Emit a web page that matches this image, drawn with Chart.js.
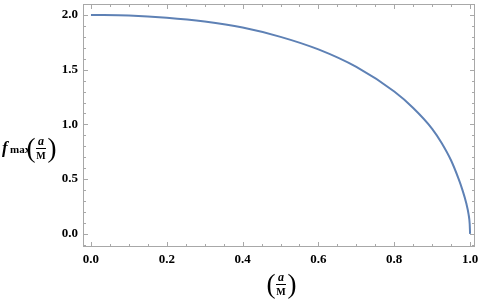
<!DOCTYPE html>
<html>
<head>
<meta charset="utf-8">
<script src="https://cdn.jsdelivr.net/npm/chart.js@4"></script>
<style>
  html, body { margin: 0; padding: 0; background: #fff; }
  #wrap { width: 484px; height: 299px; }
</style>
</head>
<body>
<div id="wrap"><canvas id="grafik" width="484" height="299"></canvas></div>
<script>
// values
const aValues = [0, 0.1, 0.2, 0.3, 0.4, 0.5, 0.6, 0.7, 0.8, 0.85, 0.9, 0.925, 0.95, 0.97, 0.98, 0.99, 0.996, 0.999, 1.0];
const fValues = [2.00, 1.995, 1.975, 1.94, 1.885, 1.80, 1.685, 1.525, 1.30, 1.15, 0.96, 0.83, 0.67, 0.50, 0.40, 0.28, 0.18, 0.09, 0.0];
const xTicks = [0, 0.2, 0.4, 0.6, 0.8, 1.0];
const yTicks = [0, 0.5, 1.0, 1.5, 2.0];
const xMinorStep = 0.05;
const yMinorStep = 0.1;

const frameColor = "#a8a8a8";
const serif = "'Liberation Serif', 'Times New Roman', serif";

// frame with inward ticks on all four sides (Mathematica style)
const framePlugin = {
  id: "frame",
  afterDraw(c) {
    const ctx = c.ctx, a = c.chartArea, x = c.scales.x, y = c.scales.y;
    ctx.save();
    ctx.strokeStyle = frameColor;
    ctx.lineWidth = 1;
    ctx.strokeRect(a.left + 0.5, a.top + 0.5, a.right - a.left - 1, a.bottom - a.top - 1);
    ctx.beginPath();
    for (let v = 0; v <= 1.0001; v += xMinorStep) {
      const px = Math.round(x.getPixelForValue(v)) + 0.5;
      const major = xTicks.some(t => Math.abs(t - v) < 1e-6);
      const len = major ? 5 : 3;
      ctx.moveTo(px, a.bottom); ctx.lineTo(px, a.bottom - len);
      ctx.moveTo(px, a.top); ctx.lineTo(px, a.top + len);
    }
    for (let v = -0.1; v <= 2.0001; v += yMinorStep) {
      const py = Math.round(y.getPixelForValue(v)) + 0.5;
      const major = yTicks.some(t => Math.abs(t - v) < 1e-6);
      const len = major ? 5 : 3;
      ctx.moveTo(a.left, py); ctx.lineTo(a.left + len, py);
      ctx.moveTo(a.right, py); ctx.lineTo(a.right - len, py);
    }
    ctx.stroke();
    ctx.restore();
  }
};

// fraction (a/M) in parentheses
function drawFrac(ctx, cx, cy) {
  ctx.fillStyle = "#000";
  ctx.strokeStyle = "#000";
  ctx.textAlign = "center";
  ctx.textBaseline = "alphabetic";
  ctx.font = "27px " + serif;
  ctx.fillText("(", cx - 10, cy + 9);
  ctx.fillText(")", cx + 11, cy + 9);
  ctx.font = "italic bold 12px " + serif;
  ctx.fillText("a", cx, cy - 3);
  ctx.font = "bold 10px " + serif;
  ctx.fillText("M", cx, cy + 11);
  ctx.beginPath();
  ctx.lineWidth = 1;
  ctx.moveTo(cx - 5, cy + 0.5); ctx.lineTo(cx + 5, cy + 0.5);
  ctx.stroke();
}

const titlePlugin = {
  id: "titles",
  afterDraw(c) {
    const ctx = c.ctx;
    ctx.save();
    // y title
    ctx.fillStyle = "#000";
    ctx.textAlign = "left";
    ctx.textBaseline = "alphabetic";
    ctx.font = "italic bold 17px " + serif;
    ctx.fillText("f", 2, 153);
    ctx.font = "bold 11px " + serif;
    ctx.fillText("max", 10, 153);
    drawFrac(ctx, 41, 148);
    // x title
    drawFrac(ctx, 281, 284);
    ctx.restore();
  }
};

const ctx = document.getElementById("grafik").getContext("2d");
new Chart(ctx, {
  type: "scatter",
  data: {
    datasets: [{
      data: aValues.map((a, i) => ({ x: a, y: fValues[i] })),
      showLine: true,
      borderColor: "#5e81b5",
      borderWidth: 2,
      pointRadius: 0,
      cubicInterpolationMode: "monotone",
      fill: false
    }]
  },
  options: {
    responsive: false,
    animation: false,
    layout: { padding: { top: 4, right: 9, left: 0, bottom: 0 } },
    plugins: { legend: { display: false }, tooltip: { enabled: false } },
    scales: {
      x: {
        type: "linear",
        min: -0.021, max: 1.013,
        grid: { display: false, drawTicks: false },
        border: { display: false },
        afterBuildTicks: s => { s.ticks = xTicks.map(v => ({ value: v })); },
        afterFit: s => { s.height = 52; s.paddingLeft = 0; s.paddingRight = 0; },
        ticks: {
          padding: 5,
          maxRotation: 0,
          color: "#000",
          font: { family: serif, weight: "bold", size: 13 },
          callback: v => v.toFixed(1)
        }
      },
      y: {
        type: "linear",
        min: -0.12, max: 2.1,
        grid: { display: false, drawTicks: false },
        border: { display: false },
        afterBuildTicks: s => { s.ticks = yTicks.map(v => ({ value: v })); },
        afterFit: s => { s.width = 83; s.paddingTop = 0; s.paddingBottom = 0; },
        ticks: {
          padding: 5,
          color: "#000",
          font: { family: serif, weight: "bold", size: 13 },
          callback: v => v.toFixed(1)
        }
      }
    }
  },
  plugins: [framePlugin, titlePlugin]
});
</script>
</body>
</html>
